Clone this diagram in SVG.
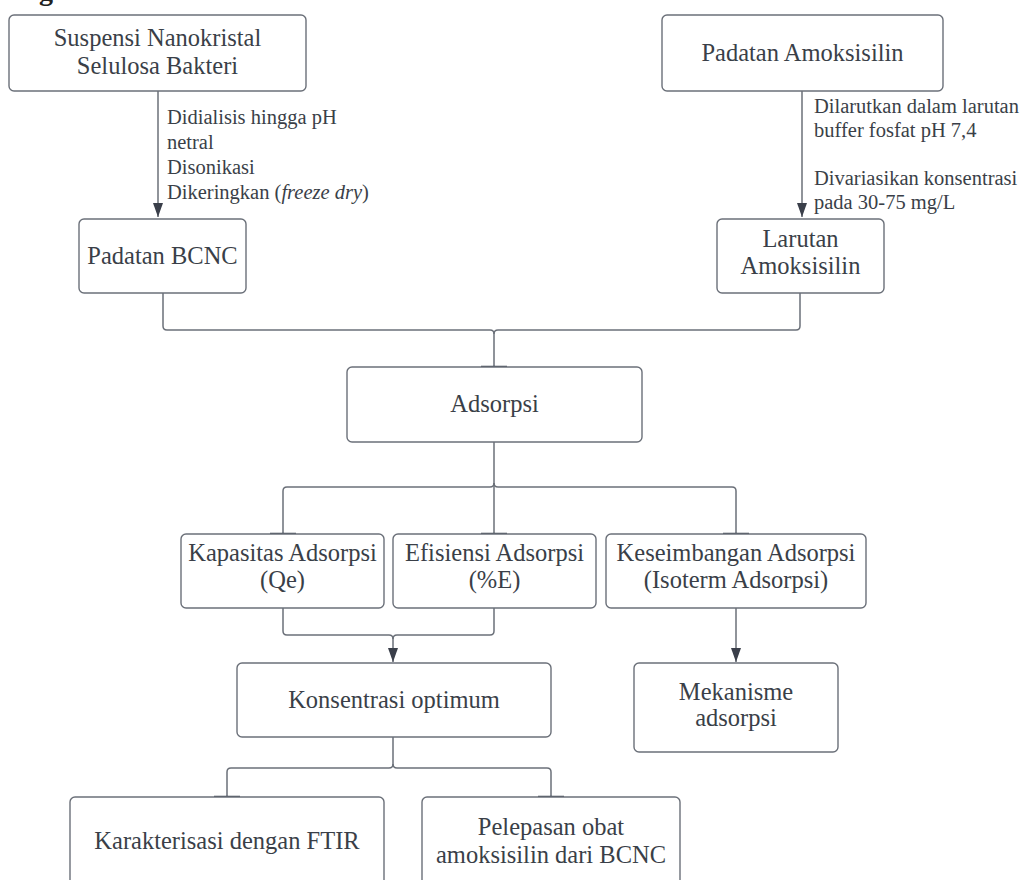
<svg xmlns="http://www.w3.org/2000/svg" width="1029" height="880" viewBox="0 0 1029 880">
<style>
  .box{fill:#ffffff;stroke:#6b7079;stroke-width:1.4}
  .t{font-family:"Liberation Serif","Times New Roman",serif;font-size:24.5px;fill:#3a3f48;text-anchor:middle}
  .lbl{font-family:"Liberation Serif","Times New Roman",serif;font-size:20.5px;fill:#3a3f48}
  .c{fill:none;stroke:#6b7079;stroke-width:1.5}
  .tick{stroke:#3f4550;stroke-width:2.5}
</style>
<defs>
  <marker id="ah" viewBox="0 0 14 10" refX="14" refY="5" markerWidth="14" markerHeight="10" markerUnits="userSpaceOnUse" orient="auto">
    <path d="M0,0 L14,5 L0,10 z" fill="#3a3f4a"/>
  </marker>
</defs>
<rect width="1029" height="880" fill="#ffffff"/>
<text x="39" y="0" style="font-family:'Liberation Serif',serif;font-size:28px;font-weight:bold;fill:#222">g</text>

<g id="connectors">
  <path class="c" d="M158,91 V217" marker-end="url(#ah)"/>
  <path class="c" d="M802,91 V217" marker-end="url(#ah)"/>
  <path class="c" d="M163,293 V326 Q163,330 167,330 H490 Q494,330 494,334 V367"/>
  <path class="c" d="M800,293 V326 Q800,330 796,330 H498 Q494,330 494,334"/>
  <path class="c" d="M494,442 V534"/>
  <path class="c" d="M494,483 Q494,487 490,487 H287 Q283,487 283,491 V534"/>
  <path class="c" d="M494,483 Q494,487 498,487 H732 Q736,487 736,491 V534"/>
  <path class="c" d="M283,608 V631 Q283,635 287,635 H389 Q393,635 393,639 V662" marker-end="url(#ah)"/>
  <path class="c" d="M494,608 V631 Q494,635 490,635 H397 Q393,635 393,639"/>
  <path class="c" d="M736,608 V662" marker-end="url(#ah)"/>
  <path class="c" d="M393,737 V764 Q393,768 389,768 H231 Q227,768 227,772 V797"/>
  <path class="c" d="M393,764 Q393,768 397,768 H547 Q551,768 551,772 V797"/>
  <line class="tick" x1="481" y1="367" x2="507" y2="367"/>
  <line class="tick" x1="270" y1="534" x2="296" y2="534"/>
  <line class="tick" x1="481" y1="534" x2="507" y2="534"/>
  <line class="tick" x1="723" y1="534" x2="749" y2="534"/>
  <line class="tick" x1="214" y1="797" x2="240" y2="797"/>
  <line class="tick" x1="538" y1="797" x2="564" y2="797"/>
  <text class="lbl" x="167" y="124">Didialisis hingga pH</text>
  <text class="lbl" x="167" y="149">netral</text>
  <text class="lbl" x="167" y="174">Disonikasi</text>
  <text class="lbl" x="167" y="199">Dikeringkan (<tspan font-style="italic">freeze dry</tspan>)</text>
  <text class="lbl" x="814" y="113">Dilarutkan dalam larutan</text>
  <text class="lbl" x="814" y="137">buffer fosfat pH 7,4</text>
  <text class="lbl" x="814" y="185">Divariasikan konsentrasi</text>
  <text class="lbl" x="814" y="209">pada 30-75 mg/L</text>
</g>

<g id="suspensi">
  <rect class="box" x="9" y="15" width="297" height="76" rx="5"/>
  <text class="t" x="157.5" y="46">Suspensi Nanokristal</text>
  <text class="t" x="157.5" y="74">Selulosa Bakteri</text>
</g>
<g id="padatan-amoksisilin">
  <rect class="box" x="662" y="15" width="281" height="76" rx="5"/>
  <text class="t" x="802.5" y="61">Padatan Amoksisilin</text>
</g>
<g id="padatan-bcnc">
  <rect class="box" x="79" y="219" width="167" height="74" rx="5"/>
  <text class="t" x="162.5" y="264">Padatan BCNC</text>
</g>
<g id="larutan-amoksisilin">
  <rect class="box" x="717" y="219" width="167" height="74" rx="5"/>
  <text class="t" x="800.5" y="247">Larutan</text>
  <text class="t" x="800.5" y="274">Amoksisilin</text>
</g>
<g id="adsorpsi">
  <rect class="box" x="347" y="367" width="295" height="75" rx="5"/>
  <text class="t" x="494.5" y="412">Adsorpsi</text>
</g>
<g id="kapasitas">
  <rect class="box" x="181" y="534" width="203" height="74" rx="5"/>
  <text class="t" x="282.5" y="561">Kapasitas Adsorpsi</text>
  <text class="t" x="282.5" y="588">(Qe)</text>
</g>
<g id="efisiensi">
  <rect class="box" x="393" y="534" width="203" height="74" rx="5"/>
  <text class="t" x="494.5" y="561">Efisiensi Adsorpsi</text>
  <text class="t" x="494.5" y="588">(%E)</text>
</g>
<g id="keseimbangan">
  <rect class="box" x="606" y="534" width="260" height="74" rx="5"/>
  <text class="t" x="736" y="561">Keseimbangan Adsorpsi</text>
  <text class="t" x="736" y="588">(Isoterm Adsorpsi)</text>
</g>
<g id="konsentrasi">
  <rect class="box" x="237" y="663" width="314" height="74" rx="5"/>
  <text class="t" x="394" y="708">Konsentrasi optimum</text>
</g>
<g id="mekanisme">
  <rect class="box" x="634" y="663" width="204" height="89" rx="5"/>
  <text class="t" x="736" y="700">Mekanisme</text>
  <text class="t" x="736" y="726">adsorpsi</text>
</g>
<g id="karakterisasi">
  <rect class="box" x="70" y="797" width="314" height="100" rx="5"/>
  <text class="t" x="227" y="849">Karakterisasi dengan FTIR</text>
</g>
<g id="pelepasan">
  <rect class="box" x="422" y="797" width="258" height="100" rx="5"/>
  <text class="t" x="551" y="835">Pelepasan obat</text>
  <text class="t" x="551" y="863">amoksisilin dari BCNC</text>
</g>
</svg>
